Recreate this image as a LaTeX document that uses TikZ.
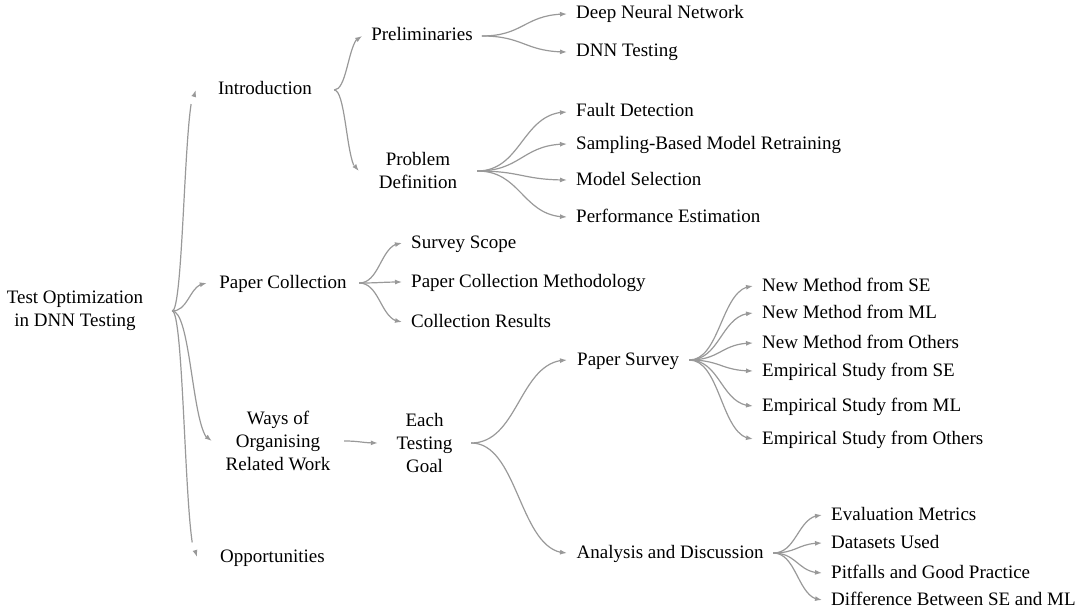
\documentclass[tikz,border=0pt]{standalone}
\usepackage{fontspec}
\setmainfont{Liberation Serif}
\usetikzlibrary{calc,arrows.meta,bending}

\begin{document}
\begin{tikzpicture}[x=1pt,y=-1pt,
  every node/.style={font=\fontsize{19}{23}\selectfont,inner ysep=0pt,inner xsep=9pt},
  lbl/.style={text height=14pt,text depth=4pt},
  multi/.style={align=center},
  link/.style={draw=black!40,line width=1.2pt,-{Latex[length=7pt,width=5pt]}}]
\useasboundingbox (0,0) rectangle (1091,615);

\node[multi,minimum width=194pt] (root) at (75,311) {Test Optimization\\in DNN Testing};

\node[lbl,minimum width=138pt] (intro) at (265,90) {Introduction};
\node[lbl,minimum width=152pt] (papercol) at (283,283) {Paper Collection};
\node[multi,minimum width=132pt] (ways) at (278,441) {Ways of\\Organising\\Related Work};
\node[lbl,anchor=west,inner xsep=23pt] (opp) at (197,557) {Opportunities};

\node[lbl,minimum width=119pt] (prelim) at (422,36) {Preliminaries};
\node[multi,minimum width=118pt] (probdef) at (418,171) {Problem\\Definition};
\node[lbl,anchor=west] (scope) at (402,243) {Survey Scope};
\node[lbl,anchor=west] (method) at (402,282) {Paper Collection Methodology};
\node[lbl,anchor=west] (results) at (402,322) {Collection Results};
\node[multi,minimum width=93pt] (goal) at (424.5,443) {Each\\Testing\\Goal};

\node[lbl,anchor=west] (dnn) at (567,14) {Deep Neural Network};
\node[lbl,anchor=west] (dnntest) at (567,52) {DNN Testing};
\node[lbl,anchor=west] (fault) at (567,112) {Fault Detection};
\node[lbl,anchor=west] (retrain) at (567,144) {Sampling-Based Model Retraining};
\node[lbl,anchor=west] (select) at (567,180) {Model Selection};
\node[lbl,anchor=west] (perf) at (567,217) {Performance Estimation};
\node[lbl,anchor=west,inner xsep=10pt] (survey) at (567,360) {Paper Survey};
\node[lbl,anchor=west,inner xsep=9.5pt] (analysis) at (567,553) {Analysis and Discussion};

\node[lbl,anchor=west] (nmse) at (753,286) {New Method from SE};
\node[lbl,anchor=west] (nmml) at (753,313) {New Method from ML};
\node[lbl,anchor=west] (nmot) at (753,343) {New Method from Others};
\node[lbl,anchor=west] (esse) at (753,371) {Empirical Study from SE};
\node[lbl,anchor=west] (esml) at (753,406) {Empirical Study from ML};
\node[lbl,anchor=west] (esot) at (753,439) {Empirical Study from Others};

\node[lbl,anchor=west] (metrics) at (822,515) {Evaluation Metrics};
\node[lbl,anchor=west] (datasets) at (822,543) {Datasets Used};
\node[lbl,anchor=west] (pitfalls) at (822,573) {Pitfalls and Good Practice};
\node[lbl,anchor=west] (diff) at (822,600) {Difference Between SE and ML};

\foreach \a/\b in {root/intro,root/papercol,root/ways,root/opp,intro/prelim,intro/probdef,prelim/dnn,prelim/dnntest,probdef/fault,probdef/retrain,probdef/select,probdef/perf,papercol/scope,papercol/method,papercol/results,ways/goal,goal/survey,goal/analysis,survey/nmse,survey/nmml,survey/nmot,survey/esse,survey/esml,survey/esot,analysis/metrics,analysis/datasets,analysis/pitfalls,analysis/diff}
	\draw[link] let \p1=(\a.east), \p2=(\b.west) in (\p1) .. controls ({(\x1+\x2)/2},\y1) and ({(\x1+\x2)/2},\y2) .. (\p2);

\end{tikzpicture}
\end{document}
